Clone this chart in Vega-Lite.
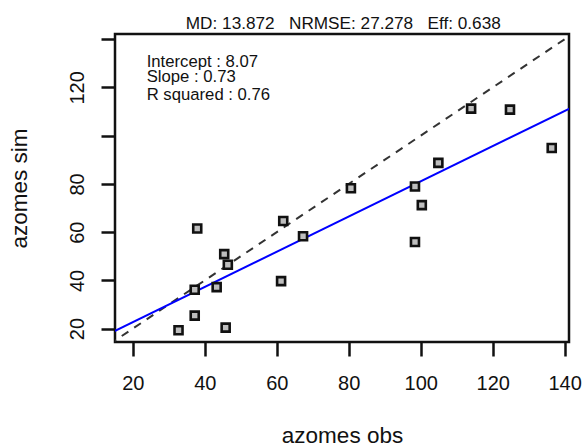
{
  "$schema": "https://vega.github.io/schema/vega-lite/v6.json",
  "width": 454,
  "height": 308,
  "autosize": {"type": "none"},
  "padding": {"left": 115, "top": 34, "right": 15, "bottom": 105},
  "background": "white",
  "config": {
    "font": "Liberation Sans",
    "view": {"stroke": "#111111", "strokeWidth": 2.5},
    "axis": {
      "grid": false,
      "domain": false,
      "ticks": true,
      "tickColor": "#111111",
      "tickWidth": 2.5,
      "tickSize": 14,
      "labelFont": "Liberation Sans",
      "labelFontSize": 20,
      "labelColor": "#111111",
      "titleFont": "Liberation Sans",
      "titleFontSize": 22.5,
      "titleFontWeight": "normal",
      "titleColor": "#111111"
    },
    "axisX": {
      "labelBaseline": "top",
      "labelPadding": 17,
      "titlePadding": 31
    },
    "axisY": {
      "labelExpr": "datum.value == 100 || datum.value == 140 ? '' : datum.label",
      "labelAngle": 270,
      "labelAlign": "center",
      "labelBaseline": "alphabetic",
      "labelPadding": 18,
      "titlePadding": 36
    }
  },
  "layer": [
    {
      "encoding": {
        "x": {
          "field": "obs",
          "type": "quantitative",
          "scale": {"domain": [15.05, 141.2], "nice": false, "zero": false},
          "axis": {"title": "azomes obs", "values": [20, 40, 60, 80, 100, 120, 140]}
        },
        "y": {
          "field": "sim",
          "type": "quantitative",
          "scale": {"domain": [14.45, 142.15], "nice": false, "zero": false},
          "axis": {"title": "azomes sim", "values": [20, 40, 60, 80, 100, 120, 140]}
        }
      },
      "layer": [
        {
          "data": {"values": [{"obs": 10, "sim": 10}, {"obs": 150, "sim": 150}]},
          "mark": {"type": "line", "clip": true, "color": "#333333", "strokeWidth": 2, "strokeDash": [8, 7]}
        },
        {
          "data": {"values": [{"obs": 10, "sim": 15.37}, {"obs": 150, "sim": 117.57}]},
          "mark": {"type": "line", "clip": true, "color": "#0000ff", "strokeWidth": 2}
        },
        {
          "data": {
            "values": [
              {"obs": 32.7, "sim": 19.3},
              {"obs": 37.2, "sim": 25.4},
              {"obs": 37.2, "sim": 36.1},
              {"obs": 43.3, "sim": 37.2},
              {"obs": 45.8, "sim": 20.4},
              {"obs": 45.4, "sim": 50.9},
              {"obs": 46.4, "sim": 46.5},
              {"obs": 61.2, "sim": 39.7},
              {"obs": 67.3, "sim": 58.3},
              {"obs": 98.4, "sim": 55.9},
              {"obs": 37.9, "sim": 61.5},
              {"obs": 61.8, "sim": 64.6},
              {"obs": 80.6, "sim": 78.2},
              {"obs": 98.4, "sim": 78.9},
              {"obs": 100.3, "sim": 71.2},
              {"obs": 104.9, "sim": 88.7},
              {"obs": 136.4, "sim": 94.9},
              {"obs": 114.0, "sim": 111.2},
              {"obs": 124.8, "sim": 110.8}
            ]
          },
          "mark": {"type": "point", "shape": "square", "filled": true, "size": 64, "fill": "#bebebe", "stroke": "#111111", "strokeWidth": 2.6, "opacity": 1}
        }
      ]
    },
    {
      "data": {"values": [{"label": "MD:\u00a013.872\u00a0\u00a0\u00a0NRMSE:\u00a027.278\u00a0\u00a0\u00a0Eff:\u00a00.638"}]},
      "mark": {"type": "text", "align": "center", "baseline": "alphabetic", "fontSize": 17.2, "color": "#111111"},
      "encoding": {
        "x": {"datum": 78.48, "axis": {"title": "azomes obs", "values": [20, 40, 60, 80, 100, 120, 140]}},
        "y": {"datum": 144.35, "axis": {"title": "azomes sim", "values": [20, 40, 60, 80, 100, 120, 140]}},
        "text": {"field": "label", "type": "nominal"}
      }
    },
    {
      "data": {"values": [{"label": "Intercept : 8.07"}]},
      "mark": {"type": "text", "align": "left", "baseline": "alphabetic", "fontSize": 16.7, "color": "#111111"},
      "encoding": {
        "x": {"datum": 23.85, "axis": {"title": "azomes obs", "values": [20, 40, 60, 80, 100, 120, 140]}},
        "y": {"datum": 128.5, "axis": {"title": "azomes sim", "values": [20, 40, 60, 80, 100, 120, 140]}},
        "text": {"field": "label", "type": "nominal"}
      }
    },
    {
      "data": {"values": [{"label": "Slope : 0.73"}]},
      "mark": {"type": "text", "align": "left", "baseline": "alphabetic", "fontSize": 16.7, "color": "#111111"},
      "encoding": {
        "x": {"datum": 23.85, "axis": {"title": "azomes obs", "values": [20, 40, 60, 80, 100, 120, 140]}},
        "y": {"datum": 122.3, "axis": {"title": "azomes sim", "values": [20, 40, 60, 80, 100, 120, 140]}},
        "text": {"field": "label", "type": "nominal"}
      }
    },
    {
      "data": {"values": [{"label": "R squared : 0.76"}]},
      "mark": {"type": "text", "align": "left", "baseline": "alphabetic", "fontSize": 16.7, "color": "#111111"},
      "encoding": {
        "x": {"datum": 23.85, "axis": {"title": "azomes obs", "values": [20, 40, 60, 80, 100, 120, 140]}},
        "y": {"datum": 114.65, "axis": {"title": "azomes sim", "values": [20, 40, 60, 80, 100, 120, 140]}},
        "text": {"field": "label", "type": "nominal"}
      }
    }
  ]
}
